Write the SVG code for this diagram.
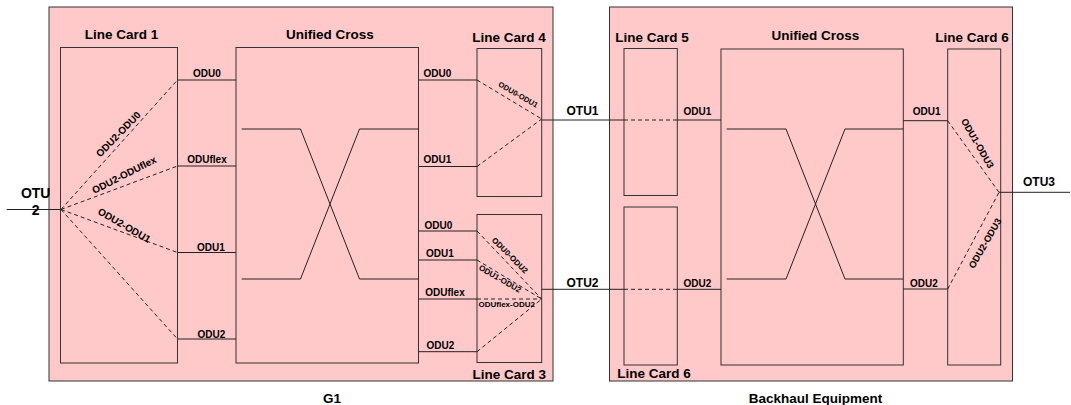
<svg xmlns="http://www.w3.org/2000/svg" width="1071" height="405" viewBox="0 0 1071 405">
<style>
.box{fill:#FFC9C9;stroke:#333;stroke-width:1}
.ln{fill:none;stroke:#222;stroke-width:1}
.ds{fill:none;stroke:#222;stroke-width:1;stroke-dasharray:4,3}
text{font-family:"Liberation Sans",Arial,sans-serif;font-weight:bold;fill:#000;text-anchor:middle}
.t{font-size:13.5px}
.o{font-size:12px}
.d{font-size:10px}
.s{font-size:8px}
</style>
<rect width="1071" height="405" fill="#fff"/>
<g id="g1">
<rect class="box" x="49" y="7" width="504" height="374"/>
<text class="t" x="332" y="402.5">G1</text>
</g>
<g id="backhaul">
<rect class="box" x="609.5" y="7" width="403" height="374"/>
<text class="t" x="815.5" y="402.5">Backhaul Equipment</text>
</g>
<g id="lc1">
<rect class="box" x="60.5" y="47.5" width="117" height="315.5"/>
<text class="t" x="121.5" y="39">Line Card 1</text>
</g>
<g id="uc1">
<rect class="box" x="236" y="47.5" width="182.5" height="315.5"/>
<text class="t" x="330" y="39">Unified Cross</text>
</g>
<g id="lc4">
<rect class="box" x="477" y="48.5" width="64.7" height="148"/>
<text class="t" x="509" y="41.5">Line Card 4</text>
</g>
<g id="lc3">
<rect class="box" x="477" y="214.5" width="64.7" height="148"/>
<text class="t" x="509.3" y="379">Line Card 3</text>
</g>
<g id="lc5">
<rect class="box" x="624" y="48.5" width="53.3" height="147"/>
<text class="t" x="652" y="41.5">Line Card 5</text>
</g>
<g id="lc6a">
<rect class="box" x="624" y="207" width="53.3" height="158"/>
<text class="t" x="654" y="378">Line Card 6</text>
</g>
<g id="uc2">
<rect class="box" x="721" y="49" width="182.3" height="316"/>
<text class="t" x="815.5" y="39.5">Unified Cross</text>
</g>
<g id="lc6b">
<rect class="box" x="947.7" y="49" width="53" height="316"/>
<text class="t" x="972" y="41.5">Line Card 6</text>
</g>
<g id="connectors">
<line class="ln" x1="6.7" y1="209.5" x2="60.5" y2="209.5"/>
<line class="ds" x1="61" y1="209.5" x2="177.5" y2="80"/>
<line class="ds" x1="61" y1="209.5" x2="177.5" y2="166"/>
<line class="ds" x1="61" y1="209.5" x2="177.5" y2="252.5"/>
<line class="ds" x1="61" y1="209.5" x2="177.5" y2="339"/>
<line class="ln" x1="177.5" y1="80" x2="236" y2="80"/>
<line class="ln" x1="177.5" y1="166" x2="236" y2="166"/>
<line class="ln" x1="177.5" y1="252.5" x2="236" y2="252.5"/>
<line class="ln" x1="177.5" y1="339" x2="236" y2="339"/>
<polyline class="ln" points="241.7,129 300.5,129 359.5,279 418.5,279"/>
<polyline class="ln" points="241.7,279 300.5,279 359.5,129 418.5,129"/>
<line class="ln" x1="418.5" y1="80" x2="477" y2="80"/>
<line class="ln" x1="418.5" y1="166.5" x2="477" y2="166.5"/>
<line class="ds" x1="477" y1="80" x2="541.7" y2="119"/>
<line class="ds" x1="477" y1="166.5" x2="541.7" y2="119"/>
<line class="ln" x1="541.7" y1="120" x2="624" y2="120"/>
<line class="ds" x1="624" y1="120" x2="677.3" y2="120"/>
<line class="ln" x1="677.3" y1="120" x2="721" y2="120"/>
<line class="ln" x1="418.5" y1="231" x2="477" y2="231"/>
<line class="ln" x1="418.5" y1="260" x2="477" y2="260"/>
<line class="ln" x1="418.5" y1="299" x2="477" y2="299"/>
<line class="ln" x1="418.5" y1="351.7" x2="477" y2="351.7"/>
<line class="ds" x1="477" y1="231" x2="541.7" y2="299"/>
<line class="ds" x1="477" y1="260" x2="541.7" y2="299"/>
<line class="ds" x1="477" y1="299" x2="541.7" y2="299"/>
<line class="ds" x1="477" y1="351.7" x2="541.7" y2="299"/>
<line class="ln" x1="541.7" y1="289.3" x2="624" y2="289.3"/>
<line class="ds" x1="624" y1="289.3" x2="677.3" y2="289.3"/>
<line class="ln" x1="677.3" y1="289.3" x2="721" y2="289.3"/>
<polyline class="ln" points="726.7,129 786,129 845,279 903.3,279"/>
<polyline class="ln" points="726.7,279 786,279 845,129 903.3,129"/>
<line class="ln" x1="903.3" y1="120.7" x2="947.7" y2="120.7"/>
<line class="ln" x1="903.3" y1="289" x2="947.7" y2="289"/>
<line class="ds" x1="947.7" y1="120.7" x2="999" y2="192.3"/>
<line class="ds" x1="947.7" y1="289" x2="999" y2="192.3"/>
<line class="ln" x1="999" y1="192.3" x2="1070" y2="192.3"/>
</g>
<g id="labels">
<text style="font-size:14px" x="35.7" y="198">OTU</text>
<text style="font-size:14px" x="35.7" y="215">2</text>
<text class="d" x="207" y="76.5">ODU0</text>
<text class="d" x="207" y="163">ODUflex</text>
<text class="d" x="211" y="251">ODU1</text>
<text class="d" x="211.5" y="337.5">ODU2</text>
<text class="d" x="437.5" y="76.5">ODU0</text>
<text class="d" x="437.5" y="163">ODU1</text>
<text class="d" x="438.5" y="228.7">ODU0</text>
<text class="d" x="440" y="256.7">ODU1</text>
<text class="d" x="445" y="296">ODUflex</text>
<text class="d" x="440.5" y="349.3">ODU2</text>
<text class="d" x="697.5" y="115">ODU1</text>
<text class="d" x="697.5" y="286.7">ODU2</text>
<text class="d" x="926.7" y="115">ODU1</text>
<text class="d" x="924" y="286.7">ODU2</text>
<text class="o" x="582.5" y="115">OTU1</text>
<text class="o" x="582.5" y="287.3">OTU2</text>
<text class="o" x="1039" y="185.7">OTU3</text>
<text class="d" transform="translate(118.3,134.2) rotate(-46)" y="3.5">ODU2-ODU0</text>
<text class="d" transform="translate(124.2,174.8) rotate(-27)" y="3.5">ODU2-ODUflex</text>
<text class="d" transform="translate(124.2,225.3) rotate(30)" y="3.5">ODU2-ODU1</text>
<text style="font-size:7.5px" transform="translate(518.3,94.5) rotate(30)" y="2.7">ODU0-ODU1</text>
<text class="s" transform="translate(510,255.3) rotate(45)" y="2.8">ODU0-ODU2</text>
<text class="s" transform="translate(500,278.7) rotate(30)" y="2.8">ODU1-ODU2</text>
<text class="s" x="506.7" y="307.3">ODUflex-ODU2</text>
<text style="font-size:9.5px" transform="translate(977.5,143.3) rotate(60)" y="3.3">ODU1-ODU3</text>
<text style="font-size:9.5px" transform="translate(985,243.3) rotate(-60)" y="3.3">ODU2-ODU3</text>
</g>
</svg>
